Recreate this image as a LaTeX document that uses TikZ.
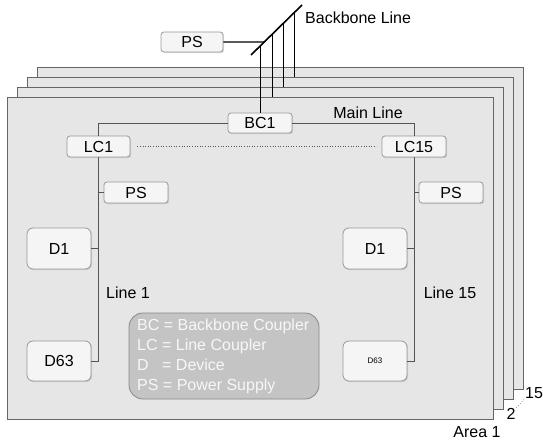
\documentclass[tikz,border=0pt]{standalone}
\usepackage{fontspec}
\setmainfont{Liberation Sans}
\usetikzlibrary{shadows,calc}
\definecolor{panelfill}{HTML}{E6E6E6}
\definecolor{paneledge}{HTML}{666666}
\definecolor{boxfill}{HTML}{F5F5F5}
\definecolor{boxedge}{HTML}{999999}
\definecolor{legfill}{HTML}{C4C4C4}
\definecolor{legedge}{HTML}{888888}
\definecolor{legtext}{HTML}{F7F7F7}
\definecolor{wirecol}{HTML}{555555}
\begin{document}
\begin{tikzpicture}[x=1pt,y=-1pt,
 every node/.style={font=\fontsize{16}{19}\selectfont, inner sep=0pt},
 panel/.style={draw=paneledge, fill=panelfill, line width=1.2pt, minimum width=486pt, minimum height=322pt, anchor=north west},
 dev/.style={draw=boxedge, fill=boxfill, rounded corners=3pt, minimum width=64pt, minimum height=21pt, line width=0.8pt, drop shadow={shadow xshift=1.2pt, shadow yshift=-1.2pt, opacity=0.25}},
 bigdev/.style={dev, rounded corners=6pt, minimum height=41pt},
 wire/.style={draw=wirecol, line width=0.9pt}]
\useasboundingbox (0,0) rectangle (543,441);
% panels
\node[panel] (p4) at (37,67) {};
\node[panel] (p3) at (27,77) {};
\node[panel] (p2) at (17,87) {};
\node[panel] (p1) at (7,97) {};
% boxes
\node[dev, minimum width=62pt, minimum height=20pt] (PStop) at (192,42) {PS};
\node[dev, minimum height=20pt] (BC1) at (260,123) {BC1};
\node[dev, minimum width=63pt] (LC1) at (98.5,146.5) {LC1};
\node[dev] (LC15) at (414,146.5) {LC15};
\node[dev] (PSL) at (136,192.5) {PS};
\node[dev] (PSR) at (451,192.5) {PS};
\node[bigdev] (D1L) at (59,248.5) {D1};
\node[bigdev] (D1R) at (375,248.5) {D1};
\node[bigdev, minimum height=40pt] (D63L) at (59,361) {D63};
\node[bigdev, minimum height=40pt, font=\fontsize{8}{9}\selectfont] (D63R) at (375,361) {D63};
% legend
\node[draw=legedge, fill=legfill, rounded corners=14pt, minimum width=190pt, minimum height=86pt, line width=0.8pt] (leg) at (224,356) {};
\node[anchor=west, text=legtext, align=left, font=\fontsize{16}{20}\selectfont] (legtxt) at (137,356)
  {BC = Backbone Coupler\\LC = Line Coupler\\D\hspace{9pt} = Device\\PS = Power Supply};
% labels
\node[anchor=west] (bbl) at (305,18) {Backbone Line};
\node (ml) at (368,113) {Main Line};
\node (l1) at (128,293) {Line 1};
\node (l15) at (450,293) {Line 15};
\node (n15) at (534,393) {15};
\node (n2) at (511,414) {2};
\node (a1) at (477,432) {Area 1};
% backbone
\coordinate (bbA) at (251,55);
\coordinate (bbB) at (302,5);
\coordinate (v1) at ($(bbA)!0.176!(bbB)$);
\coordinate (v2) at ($(bbA)!0.412!(bbB)$);
\coordinate (v3) at ($(bbA)!0.627!(bbB)$);
\coordinate (v4) at ($(bbA)!0.843!(bbB)$);
\coordinate (vps) at ($(bbA)!0.26!(bbB)$);
\draw[line width=0.9pt] (v1) -- (v1 |- BC1.north);
\draw[line width=0.9pt] (v2) -- (v2 |- p1.north);
\draw[line width=0.9pt] (v3) -- (v3 |- p2.north);
\draw[line width=0.9pt] (v4) -- (v4 |- p3.north);
\draw[line width=1.4pt] (PStop.east) -- (vps);
\draw[line width=1.6pt] (bbA) -- (bbB);
% main line
\draw[wire] (BC1.west) -| (LC1.north);
\draw[wire] (BC1.east) -| (LC15.north);
\draw[draw=wirecol, line width=0.6pt, dotted, shorten <=7pt, shorten >=5pt] (LC1.east) -- (LC15.west);
% line 1
\draw[wire] (LC1.south) |- (D63L.east);
\draw[wire] (PSL.west) -- (LC1.south |- PSL.west);
\draw[wire] (D1L.east) -- (LC1.south |- D1L.east);
% line 15
\draw[wire] (LC15.south) |- (D63R.east);
\draw[wire] (PSR.west) -- (LC15.south |- PSR.west);
\draw[wire] (D1R.east) -- (LC15.south |- D1R.east);
% area dots
\draw[draw=wirecol, line width=0.6pt, dotted, shorten <=1pt, shorten >=1pt] (n2.north east) -- (n15.south west);
\end{tikzpicture}
\end{document}
